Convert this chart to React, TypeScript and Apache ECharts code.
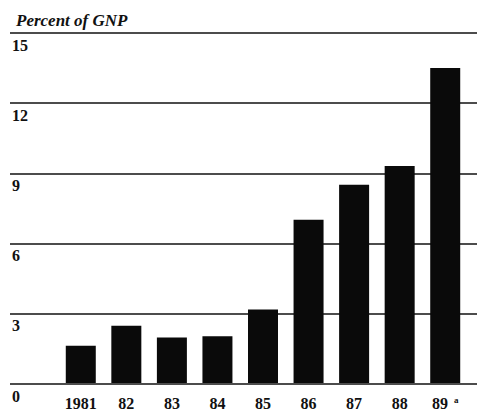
import React, { useEffect, useRef } from "react";
import * as echarts from "echarts";

const categories = ["1981", "82", "83", "84", "85", "86", "87", "88", "89"];
const values = [1.6, 2.45, 1.95, 2.0, 3.15, 7.0, 8.5, 9.3, 13.5];
const yTicks = [0, 3, 6, 9, 12, 15];
const title = "Percent of GNP";

const FONT = "'Liberation Serif', 'DejaVu Serif', serif";

export default function App() {
  const ref = useRef<HTMLDivElement>(null);
  useEffect(() => {
    const chart = echarts.init(ref.current!, null, { renderer: "svg" });
    chart.setOption({
      animation: false,
      backgroundColor: "#ffffff",
      title: {
        text: title,
        left: 11,
        top: 7,
        textStyle: {
          fontFamily: FONT,
          fontStyle: "italic",
          fontWeight: "bold",
          fontSize: 17,
          color: "#111",
        },
      },
      grid: [
        { left: 10, right: 0, top: 33, bottom: 27, containLabel: false },
        { left: 58, right: 9, top: 33, bottom: 27, containLabel: false },
      ],
      xAxis: [
        { type: "value", gridIndex: 0, show: false, min: 0, max: 1 },
        {
          type: "category",
          gridIndex: 1,
          data: categories,
          axisLine: { show: false },
          axisTick: { show: false },
          axisLabel: {
            interval: 0,
            margin: 12,
            fontFamily: FONT,
            fontWeight: "bold",
            fontSize: 16,
            color: "#111",
            formatter: (v: string) => (v === "89" ? "89{sup|a}" : v),
            rich: {
              sup: {
                fontFamily: FONT,
                fontWeight: "bold",
                fontSize: 9,
                color: "#111",
                verticalAlign: "top",
                padding: [0, 0, 4, 6],
              },
            },
          },
        },
      ],
      yAxis: [
        {
          type: "value",
          gridIndex: 0,
          min: 0,
          max: 15,
          interval: 3,
          axisLine: { show: false },
          axisTick: { show: false },
          splitLine: { show: true, lineStyle: { color: "#111", width: 1.5 } },
          axisLabel: {
            inside: true,
            align: "left",
            verticalAlign: "top",
            margin: 2,
            padding: [4, 0, 0, 0],
            fontFamily: FONT,
            fontWeight: "bold",
            fontSize: 16,
            color: "#111",
            formatter: (v: number) => (yTicks.includes(v) ? String(v) : ""),
          },
        },
        {
          type: "value",
          gridIndex: 1,
          min: 0,
          max: 15,
          interval: 3,
          show: false,
        },
      ],
      series: [
        {
          type: "bar",
          xAxisIndex: 1,
          yAxisIndex: 1,
          data: values,
          barWidth: 30,
          itemStyle: { color: "#0a0a0a" },
          z: 3,
        },
      ],
    });
    return () => chart.dispose();
  }, []);
  return (
    <div
      ref={ref}
      style={{ position: "absolute", left: 0, top: 0, width: 477, height: 411 }}
    />
  );
}
